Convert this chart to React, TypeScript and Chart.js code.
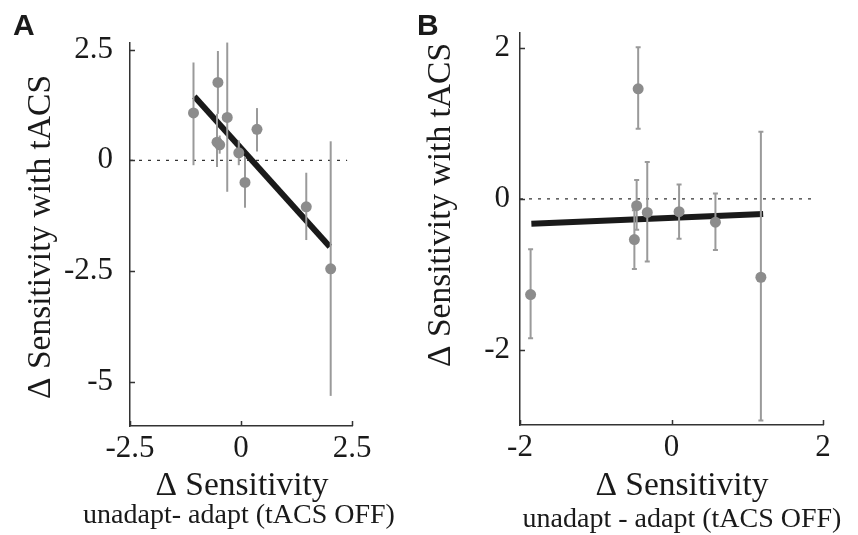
import React, { useEffect, useRef } from "react";
import { Chart, registerables } from "chart.js";

Chart.register(...registerables);

// ---------- Panel A data ----------
const xA = [-1.07, -0.52, -0.31, -0.54, -0.48, -0.05, 0.36, 0.09, 1.47, 2.02];
const yA = [1.07, 1.76, 0.97, 0.41, 0.35, 0.17, 0.7, -0.5, -1.05, -2.45];
const hiA = [2.21, 2.47, 2.66, 1.05, 0.56, 0.45, 1.18, 0.08, -0.28, 0.43];
const loA = [-0.11, 1.05, -0.71, -0.15, 0.15, -0.11, 0.2, -1.07, -1.8, -5.32];
const fitXA = [-1.05, 2.0];
const fitYA = [1.44, -1.95];
const zeroXA = [-2.5, 2.39];
const xTicksA = [-2.5, 0, 2.5];
const yTicksA = [2.5, 0, -2.5, -5];

// ---------- Panel B data ----------
const xB = [-0.44, -0.46, -0.32, 0.1, 0.58, -1.86, -0.49, 1.18];
const yB = [1.46, -0.09, -0.18, -0.17, -0.31, -1.27, -0.54, -1.04];
const hiB = [2.01, 0.25, 0.49, 0.19, 0.07, -0.67, -0.15, 0.89];
const loB = [0.93, -0.41, -0.83, -0.53, -0.68, -1.85, -0.93, -2.94];
const fitXB = [-1.85, 1.21];
const fitYB = [-0.33, -0.2];
const zeroXB = [-2, 1.92];
const xTicksB = [-2, 0, 2];
const yTicksB = [2, 0, -2];

const LETTER_A = "A";
const LETTER_B = "B";
const Y_TITLE = "Δ Sensitivity with tACS";
const X_TITLE = "Δ Sensitivity";
const SUB_A = "unadapt- adapt (tACS OFF)";
const SUB_B = "unadapt - adapt (tACS OFF)";

const SERIF = '"Liberation Serif", "Times New Roman", serif';
const SANS = '"Liberation Sans", Arial, sans-serif';
const INK = "#1a1a1a";

type Panel = {
  canvasLeft: number;
  canvasWidth: number;
  area: { left: number; right: number; top: number; bottom: number };
  xMin: number; xMax: number; yMin: number; yMax: number;
  xs: number[]; ys: number[]; hi: number[]; lo: number[];
  fitX: number[]; fitY: number[]; zeroX: number[];
  xTicks: number[]; yTicks: number[];
  caps: boolean;
  yTickPad: number;
  letter: string; letterX: number;
  yTitleX: number; yTitleY: number;
  xTitleX: number; xTitleY: number;
  sub: string; subX: number; subY: number;
};

const H = 535;

const panels: Panel[] = [
  {
    canvasLeft: 0, canvasWidth: 410,
    area: { left: 130, right: 352, top: 43, bottom: 426 },
    xMin: -2.5, xMax: 2.5, yMin: -6, yMax: 2.65,
    xs: xA, ys: yA, hi: hiA, lo: loA,
    fitX: fitXA, fitY: fitYA, zeroX: zeroXA,
    xTicks: xTicksA, yTicks: yTicksA,
    caps: false, yTickPad: 17,
    letter: LETTER_A, letterX: 13,
    yTitleX: 50, yTitleY: 237,
    xTitleX: 242, xTitleY: 495,
    sub: SUB_A, subX: 239, subY: 523,
  },
  {
    canvasLeft: 410, canvasWidth: 448,
    area: { left: 520, right: 823, top: 33, bottom: 425 },
    xMin: -2, xMax: 2, yMin: -3, yMax: 2.2,
    xs: xB, ys: yB, hi: hiB, lo: loB,
    fitX: fitXB, fitY: fitYB, zeroX: zeroXB,
    xTicks: xTicksB, yTicks: yTicksB,
    caps: true, yTickPad: 10,
    letter: LETTER_B, letterX: 417,
    yTitleX: 450, yTitleY: 205,
    xTitleX: 682, xTitleY: 495,
    sub: SUB_B, subX: 682, subY: 527,
  },
];

function makeChart(canvas: HTMLCanvasElement, p: Panel) {
  const cl = p.canvasLeft;
  const areaLeft = p.area.left - cl;
  const areaRight = p.area.right - cl;

  const errorBars = {
    id: "errorBars",
    beforeDatasetDraw(chart: any, args: any) {
      if (args.index !== 0) return;
      const { ctx, scales } = chart;
      ctx.save();
      ctx.strokeStyle = "#9a9a9a";
      ctx.lineWidth = 2;
      for (let i = 0; i < p.xs.length; i++) {
        const x = scales.x.getPixelForValue(p.xs[i]);
        const y1 = scales.y.getPixelForValue(p.hi[i]);
        const y2 = scales.y.getPixelForValue(p.lo[i]);
        ctx.beginPath();
        ctx.moveTo(x, y1);
        ctx.lineTo(x, y2);
        if (p.caps) {
          ctx.moveTo(x - 2.5, y1);
          ctx.lineTo(x + 2.5, y1);
          ctx.moveTo(x - 2.5, y2);
          ctx.lineTo(x + 2.5, y2);
        }
        ctx.stroke();
      }
      ctx.restore();
    },
  };

  const decorations = {
    id: "decorations",
    afterDraw(chart: any) {
      const { ctx, scales, chartArea } = chart;
      ctx.save();
      // inward tick marks
      ctx.strokeStyle = "#333";
      ctx.lineWidth = 1.5;
      ctx.beginPath();
      for (const v of p.yTicks) {
        const y = Math.round(scales.y.getPixelForValue(v)) + 0.5;
        ctx.moveTo(chartArea.left, y);
        ctx.lineTo(chartArea.left + 5, y);
      }
      for (const v of p.xTicks) {
        const x = Math.round(scales.x.getPixelForValue(v)) + 0.5;
        ctx.moveTo(x, chartArea.bottom);
        ctx.lineTo(x, chartArea.bottom - 5);
      }
      ctx.stroke();

      ctx.fillStyle = INK;
      // panel letter
      ctx.font = `bold 30px ${SANS}`;
      ctx.textAlign = "left";
      ctx.textBaseline = "alphabetic";
      ctx.fillText(p.letter, p.letterX - cl, 35);
      // x title
      ctx.textAlign = "center";
      ctx.font = `33.5px ${SERIF}`;
      ctx.fillText(X_TITLE, p.xTitleX - cl, p.xTitleY);
      ctx.font = `28px ${SERIF}`;
      ctx.fillText(p.sub, p.subX - cl, p.subY);
      // y title
      ctx.save();
      ctx.translate(p.yTitleX - cl, p.yTitleY);
      ctx.rotate(-Math.PI / 2);
      ctx.font = `33.5px ${SERIF}`;
      ctx.textAlign = "center";
      ctx.fillText(Y_TITLE, 0, 0);
      ctx.restore();
      ctx.restore();
    },
  };

  const points = p.xs.map((x, i) => ({ x, y: p.ys[i] }));
  const fit = p.fitX.map((x, i) => ({ x, y: p.fitY[i] }));
  const zero = p.zeroX.map((x) => ({ x, y: 0 }));

  const tickFont = { family: SERIF, size: 31 };

  return new Chart(canvas, {
    type: "scatter",
    data: {
      datasets: [
        {
          data: points,
          pointRadius: 5.5,
          pointBackgroundColor: "#8c8c8c",
          pointBorderWidth: 0,
          backgroundColor: "#8c8c8c",
          borderColor: "#8c8c8c",
        },
        {
          type: "line",
          data: fit,
          borderColor: "#1a1a1a",
          borderWidth: 6,
          pointRadius: 0,
          borderCapStyle: "butt",
          fill: false,
        },
        {
          type: "line",
          data: zero,
          borderColor: "#333",
          borderWidth: 1.3,
          borderDash: [3, 6],
          pointRadius: 0,
          fill: false,
        },
      ],
    } as any,
    options: {
      responsive: false,
      animation: false,
      devicePixelRatio: 1,
      layout: {
        padding: {
          left: 0,
          top: p.area.top,
          right: p.canvasWidth - areaRight,
          bottom: 0,
        },
      },
      plugins: {
        legend: { display: false },
        tooltip: { enabled: false },
        title: { display: false },
      },
      scales: {
        x: {
          type: "linear",
          min: p.xMin,
          max: p.xMax,
          afterFit: (s: any) => {
            s.height = H - p.area.bottom;
          },
          afterBuildTicks: (s: any) => {
            s.ticks = p.xTicks.map((v) => ({ value: v }));
          },
          grid: { display: false, drawTicks: false },
          border: { display: true, color: "#333", width: 1.5 },
          ticks: {
            font: tickFont,
            color: INK,
            padding: 4,
            maxRotation: 0,
            autoSkip: false,
            callback: (v: any) => String(v),
          },
        },
        y: {
          type: "linear",
          min: p.yMin,
          max: p.yMax,
          afterFit: (s: any) => {
            s.width = areaLeft;
          },
          afterBuildTicks: (s: any) => {
            s.ticks = p.yTicks.map((v) => ({ value: v }));
          },
          grid: { display: false, drawTicks: false },
          border: { display: true, color: "#333", width: 1.5 },
          ticks: {
            font: tickFont,
            color: INK,
            padding: p.yTickPad,
            autoSkip: false,
            callback: (v: any) => String(v),
          },
        },
      },
    } as any,
    plugins: [errorBars, decorations],
  });
}

function PanelChart({ p }: { p: Panel }) {
  const ref = useRef<HTMLCanvasElement | null>(null);
  useEffect(() => {
    if (!ref.current) return;
    const chart = makeChart(ref.current, p);
    return () => chart.destroy();
  }, [p]);
  return (
    <canvas
      ref={ref}
      width={p.canvasWidth}
      height={H}
      style={{
        position: "absolute",
        left: p.canvasLeft,
        top: 0,
        width: p.canvasWidth,
        height: H,
      }}
    />
  );
}

export default function App() {
  return (
    <div
      style={{
        position: "fixed",
        left: 0,
        top: 0,
        width: 858,
        height: H,
        background: "#fff",
      }}
    >
      {panels.map((p, i) => (
        <PanelChart key={i} p={p} />
      ))}
    </div>
  );
}
